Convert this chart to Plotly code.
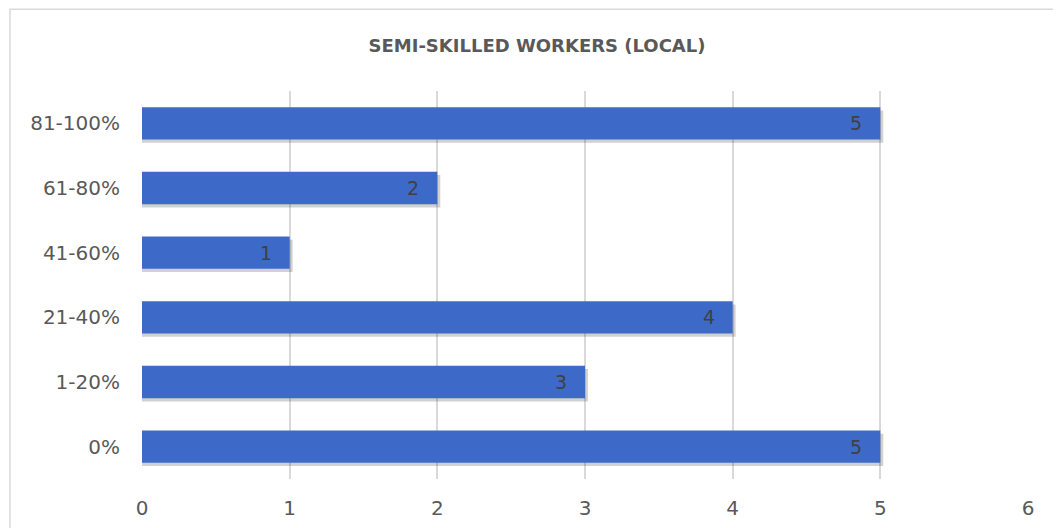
import plotly.graph_objects as go

categories = ["0%", "1-20%", "21-40%", "41-60%", "61-80%", "81-100%"]
values = [5, 3, 4, 1, 2, 5]
x_ticks = [0, 1, 2, 3, 4, 5, 6]
title = "SEMI-SKILLED WORKERS (LOCAL)"

FONT = "DejaVu Sans, sans-serif"

fig = go.Figure()
# soft shadow under bars
fig.add_trace(go.Bar(
    y=categories, x=[v + 0.02 for v in values], orientation="h",
    width=0.5, offset=-0.30,
    marker=dict(color="rgba(0,0,0,0.18)", line=dict(width=0)),
    hoverinfo="skip", showlegend=False,
))
fig.add_trace(go.Bar(
    y=categories, x=values, orientation="h",
    width=0.5, offset=-0.25,
    marker=dict(color="#3D6AC8", line=dict(width=0)),
    showlegend=False,
))

annotations = [
    dict(x=v, y=c, xref="x", yref="y", text=str(v), showarrow=False,
         xanchor="right", yanchor="middle", xshift=-16,
         font=dict(family=FONT, size=19, color="#404040"))
    for c, v in zip(categories, values)
]

fig.update_layout(
    width=1061, height=528,
    margin=dict(l=134, r=41, t=83, b=57, autoexpand=False),
    paper_bgcolor="white", plot_bgcolor="white",
    barmode="overlay",
    title=dict(text="<b>" + title + "</b>", x=529 / 1061, xanchor="center", xref="container",
               y=0.928, yanchor="middle",
               font=dict(family=FONT, size=18, color="#595959")),
    xaxis=dict(range=[0, 6], tickvals=x_ticks, showgrid=True, gridcolor="#D9D9D9",
               gridwidth=1.5, zeroline=False, showline=False, ticks="outside",
               ticklen=11, tickcolor="rgba(0,0,0,0)",
               tickfont=dict(family=FONT, size=20, color="#595959")),
    yaxis=dict(categoryorder="array", categoryarray=categories, range=[-0.5, 5.5],
               showgrid=False, zeroline=False, showline=False, ticks="outside",
               ticklen=17, tickcolor="rgba(0,0,0,0)",
               tickfont=dict(family=FONT, size=20, color="#595959")),
    annotations=annotations,
    shapes=[dict(type="rect", xref="paper", yref="paper",
                 x0=-0.149, x1=1.034, y0=-0.25, y1=1.211,
                 line=dict(color="#D9D9D9", width=1.5), fillcolor="rgba(0,0,0,0)",
                 layer="below")],
)

fig.write_html("out.html")
